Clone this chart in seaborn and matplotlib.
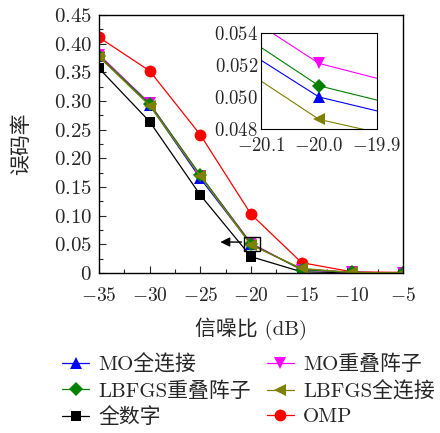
import numpy as np
import pandas as pd
import matplotlib
matplotlib.use("Agg")
import matplotlib.pyplot as plt
import seaborn as sns
from matplotlib.lines import Line2D
from matplotlib.ticker import MultipleLocator, FuncFormatter, FixedLocator

snr = [-35, -30, -25, -20, -15, -10, -5]
mo_full = [0.378, 0.293, 0.165, 0.0500, 0.0065, 0.0010, 0.0002]
mo_overlap = [0.381, 0.296, 0.170, 0.0521, 0.0055, 0.0010, 0.0002]
lbfgs_overlap = [0.379, 0.295, 0.1707, 0.0507, 0.0060, 0.0010, 0.0002]
lbfgs_full = [0.377, 0.292, 0.1686, 0.0486, 0.0080, 0.0010, 0.0002]
all_digital = [0.357, 0.264, 0.136, 0.0285, 0.0020, 0.0005, 0.0001]
omp = [0.411, 0.3525, 0.241, 0.1025, 0.018, 0.002, 0.001]

labels = ["MO全连接", "MO重叠阵子", "LBFGS重叠阵子", "LBFGS全连接", "全数字", "OMP"]
colors = ["#0000ff", "#ff00ff", "#008000", "#808000", "#000000", "#ff0000"]
markers = ["^", "v", "D", "<", "s", "o"]
series = [mo_full, mo_overlap, lbfgs_overlap, lbfgs_full, all_digital, omp]
msizes = [8, 8, 7, 8, 7, 8.5]

sns.set_style("white")
plt.rcParams["font.family"] = ["cmr10", "Noto Sans CJK SC"]
plt.rcParams["mathtext.fontset"] = "cm"
plt.rcParams["axes.unicode_minus"] = True
plt.rcParams["font.size"] = 14

fig = plt.figure(figsize=(4.4, 4.33), dpi=100)
ax = fig.add_axes([99/440, (433-273)/433, 304/440, 258/433])

draw_order = [5, 4, 0, 1, 2, 3]
for i in draw_order:
    df = pd.DataFrame({"snr": snr, "ber": series[i]})
    sns.lineplot(data=df, x="snr", y="ber", ax=ax, color=colors[i], marker=markers[i],
                 markersize=msizes[i], markeredgewidth=0, linewidth=0.9, legend=False)

ax.set_xlim(-35, -5)
ax.set_ylim(0, 0.45)
ax.xaxis.set_major_locator(MultipleLocator(5))
ax.xaxis.set_minor_locator(MultipleLocator(2.5))
ax.yaxis.set_major_locator(MultipleLocator(0.05))
ax.yaxis.set_minor_locator(MultipleLocator(0.025))
ax.xaxis.set_major_formatter(FuncFormatter(lambda v, p: r"$%d$" % round(v)))
ax.yaxis.set_major_formatter(FuncFormatter(lambda v, p: r"$0$" if abs(v) < 1e-9 else r"$%.2f$" % v))
ax.tick_params(which="both", direction="in", top=False, right=False, bottom=True, left=True)
ax.tick_params(which="major", length=5, width=0.8)
ax.tick_params(which="minor", length=3, width=0.8)
ax.tick_params(axis="x", labelsize=14, pad=10)
ax.tick_params(axis="y", labelsize=15, pad=5)
for s in ax.spines.values():
    s.set_color("black")
    s.set_linewidth(1.0)
ax.set_xlabel("信噪比 (dB)", fontsize=15, labelpad=9)
ax.set_ylabel("误码率", fontsize=15, family=["Noto Sans CJK SC"], labelpad=16)

# annotation box and arrow
ax.add_patch(plt.Rectangle((-20.66, 0.0384), 1.58, 0.0249, fill=False, edgecolor="black", linewidth=1.0, zorder=10))
ax.annotate("", xy=(-23.3, 0.054), xytext=(-20.66, 0.054),
            arrowprops=dict(arrowstyle="-|>", color="black", lw=1.0, mutation_scale=14), zorder=10)

# inset
axin = ax.inset_axes([(261-99)/304, (273-129)/258, 116/304, 96/258])
for i in draw_order:
    if i == 5 or i == 4:
        continue
    df = pd.DataFrame({"snr": snr, "ber": series[i]})
    sns.lineplot(data=df, x="snr", y="ber", ax=axin, color=colors[i], marker=markers[i],
                 markersize=msizes[i], markeredgewidth=0, linewidth=0.8, legend=False)
axin.set_xlim(-20.1, -19.9)
axin.set_ylim(0.048, 0.054)
axin.xaxis.set_major_locator(FixedLocator([-20.1, -20.0, -19.9]))
axin.yaxis.set_major_locator(FixedLocator([0.048, 0.050, 0.052, 0.054]))
axin.xaxis.set_major_formatter(FuncFormatter(lambda v, p: r"$%.1f$" % v))
axin.yaxis.set_major_formatter(FuncFormatter(lambda v, p: r"$%.3f$" % v))
axin.tick_params(which="both", direction="in", labelsize=13.5, length=4, width=0.8)
axin.tick_params(axis="x", pad=6)
axin.tick_params(axis="y", pad=2)
axin.set_xlabel("")
axin.set_ylabel("")
for s in axin.spines.values():
    s.set_color("black")
    s.set_linewidth(0.8)

# legend
handles = [Line2D([], [], color=colors[i], marker=markers[i], markersize=msizes[i],
                  markeredgewidth=0, linewidth=0.9) for i in range(6)]
order = [0, 2, 4, 1, 3, 5]
fig.legend([handles[i] for i in order], [labels[i] for i in order], ncol=2,
           loc="upper left", bbox_to_anchor=(62/440, 1 - 354/433), frameon=False,
           fontsize=15, handlelength=1.3, handletextpad=0.45, columnspacing=0.75,
           labelspacing=0.32, borderpad=0, borderaxespad=0)

fig.savefig("out.png", dpi=100)
